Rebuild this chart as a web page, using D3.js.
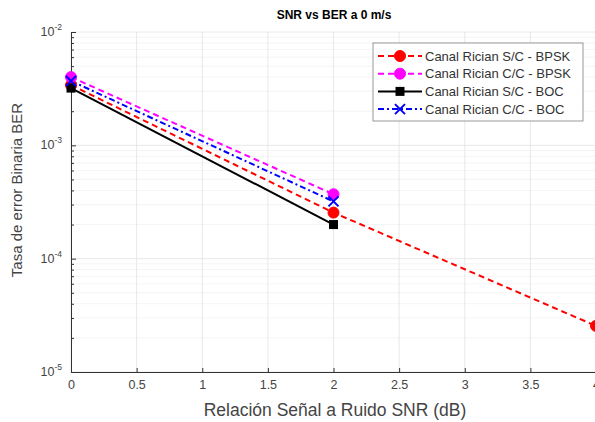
<!DOCTYPE html>
<html>
<head>
<meta charset="utf-8">
<script src="https://cdn.jsdelivr.net/npm/d3@7"></script>
<style>
  body { margin: 0; background: #fff; }
  text { font-family: "Liberation Sans", Arial, sans-serif; }
</style>
</head>
<body>
<div id="chart"></div>
<script>
// data
const snr = [0, 2, 4];
const seriesNames = ["Canal Rician S/C - BPSK", "Canal Rician C/C - BPSK", "Canal Rician S/C - BOC", "Canal Rician C/C - BOC"];
const ricianScBpsk = [3.4e-3, 2.55e-4, 2.55e-5];
const ricianCcBpsk = [4.0e-3, 3.7e-4];
const ricianScBoc = [3.2e-3, 2.0e-4];
const ricianCcBoc = [3.7e-3, 3.2e-4];
const xTicks = [0, 0.5, 1, 1.5, 2, 2.5, 3, 3.5, 4];
const yExponents = [-5, -4, -3, -2];

const W = 595, H = 422;
const margin = { top: 32, right: -1, bottom: 50, left: 71 };
const width = W - margin.left - margin.right,
      height = H - margin.top - margin.bottom;

const svg = d3.select("#chart")
  .append("svg")
    .attr("width", W)
    .attr("height", H);

const g = svg.append("g")
    .attr("transform", `translate(${margin.left}, ${margin.top})`);

const x = d3.scaleLinear().domain([0, 4]).range([0, width]);
const y = d3.scaleLog().domain([1e-5, 1e-2]).range([height, 0]);

// grid: major and minor
const minor = [];
yExponents.slice(0, -1).forEach(e => {
  for (let k = 2; k <= 9; k++) minor.push(k * Math.pow(10, e));
});
g.selectAll(".ygridminor")
  .data(minor)
  .join("line")
    .attr("x1", 0).attr("x2", width)
    .attr("y1", d => y(d)).attr("y2", d => y(d))
    .attr("stroke", "#ececec").attr("stroke-width", 0.6);
g.selectAll(".ygrid")
  .data(yExponents.map(e => Math.pow(10, e)))
  .join("line")
    .attr("x1", 0).attr("x2", width)
    .attr("y1", d => y(d)).attr("y2", d => y(d))
    .attr("stroke", "#e2e2e2").attr("stroke-width", 0.8);
g.selectAll(".xgrid")
  .data(xTicks)
  .join("line")
    .attr("x1", d => x(d)).attr("x2", d => x(d))
    .attr("y1", 0).attr("y2", height)
    .attr("stroke", "#e2e2e2").attr("stroke-width", 0.8);

// axes
const axisColor = "#333";
const xAxis = g.append("g")
  .attr("transform", `translate(0, ${height})`)
  .call(d3.axisBottom(x).tickValues(xTicks).tickSize(-4).tickPadding(8).tickFormat(d3.format("")));
const yAxis = g.append("g")
  .call(d3.axisLeft(y).tickValues(minor.concat(yExponents.map(e => Math.pow(10, e)))).tickSize(-3).tickFormat(""));
yAxis.selectAll(".tick line")
  .filter(d => Math.abs(Math.log10(d) - Math.round(Math.log10(d))) < 1e-6)
  .attr("x2", 5);
[xAxis, yAxis].forEach(a => {
  a.select(".domain").attr("stroke", axisColor).attr("stroke-width", 1);
  a.selectAll(".tick line").attr("stroke", axisColor);
});
xAxis.selectAll(".tick text")
  .attr("fill", "#444").attr("font-size", 12.5)
  .attr("font-family", "Liberation Sans, Arial, sans-serif");

// y tick labels 10^e
const yl = g.selectAll(".ylab")
  .data(yExponents)
  .join("text")
    .attr("x", -9)
    .attr("y", d => y(Math.pow(10, d)) + 4)
    .attr("text-anchor", "end")
    .attr("fill", "#444")
    .attr("font-size", 12.5);
yl.append("tspan").text("10");
yl.append("tspan").attr("dy", -6).attr("font-size", 8.5).text(d => "-" + Math.abs(d));

// titles
svg.append("text")
  .attr("x", 334).attr("y", 19)
  .attr("text-anchor", "middle").attr("font-weight", "bold")
  .attr("font-size", 12).attr("fill", "#000")
  .text("SNR vs BER a 0 m/s");
svg.append("text")
  .attr("x", 335).attr("y", 416)
  .attr("text-anchor", "middle").attr("font-size", 17.5).attr("fill", "#444")
  .text("Relación Señal a Ruido SNR (dB)");
svg.append("text")
  .attr("transform", "translate(22, 190) rotate(-90)")
  .attr("text-anchor", "middle").attr("font-size", 15).attr("fill", "#444")
  .text("Tasa de error Binaria BER");

// series
const series = [
  { name: seriesNames[0], values: ricianScBpsk, color: "#ff0000", dash: "6,4", marker: "circle" },
  { name: seriesNames[1], values: ricianCcBpsk, color: "#ff00ff", dash: "6,4", marker: "circle" },
  { name: seriesNames[2], values: ricianScBoc, color: "#000000", dash: null, marker: "square" },
  { name: seriesNames[3], values: ricianCcBoc, color: "#0000ff", dash: "6,3,2,3", marker: "x" }
];

const line = d3.line().x((d, i) => x(snr[i])).y(d => y(d));

const plot = g.append("g");

function drawMarker(sel, type, color) {
  if (type === "circle") {
    sel.append("circle").attr("r", 5.5).attr("fill", color).attr("stroke", color);
  } else if (type === "square") {
    sel.append("rect").attr("x", -4.5).attr("y", -4.5).attr("width", 9).attr("height", 9)
      .attr("fill", color);
  } else {
    sel.append("path").attr("d", "M-5,-5L5,5M-5,5L5,-5")
      .attr("stroke", color).attr("stroke-width", 2).attr("fill", "none");
  }
}

series.forEach(s => {
  plot.append("path")
    .datum(s.values)
    .attr("d", line)
    .attr("fill", "none")
    .attr("stroke", s.color)
    .attr("stroke-width", 2)
    .attr("stroke-dasharray", s.dash);
});
series.forEach(s => {
  s.values.forEach((v, i) => {
    const m = plot.append("g").attr("transform", `translate(${x(snr[i])}, ${y(v)})`);
    drawMarker(m, s.marker, s.color);
  });
});

// legend
const legend = svg.append("g").attr("transform", "translate(373, 43)");
legend.append("rect")
  .attr("width", 210).attr("height", 78)
  .attr("fill", "#fff").attr("stroke", "#555").attr("stroke-width", 0.6);
series.forEach((s, i) => {
  const row = legend.append("g").attr("transform", `translate(0, ${13 + i * 17.7})`);
  row.append("line")
    .attr("x1", 5).attr("x2", 49)
    .attr("stroke", s.color).attr("stroke-width", 2)
    .attr("stroke-dasharray", s.dash);
  const m = row.append("g").attr("transform", "translate(27, 0)");
  drawMarker(m, s.marker, s.color);
  row.append("text")
    .attr("x", 52).attr("y", 4.5)
    .attr("font-size", 13).attr("fill", "#333")
    .text(s.name);
});
</script>
</body>
</html>
